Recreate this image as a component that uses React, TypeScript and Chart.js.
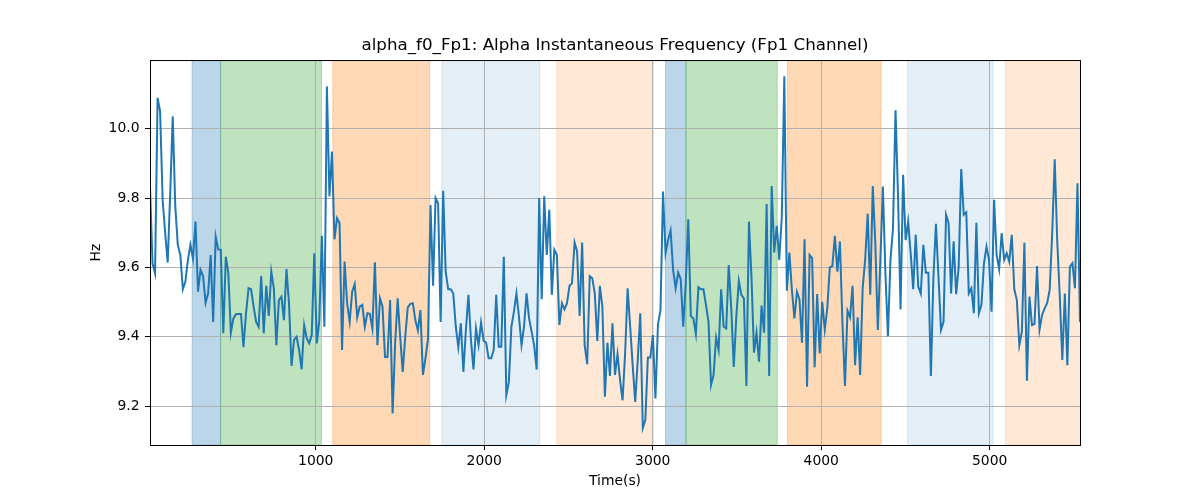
import React, { useEffect, useRef } from 'react';
import { Chart, registerables } from 'chart.js';

Chart.register(...registerables);

// sampling of the instantaneous frequency trace (seconds)
const T_START = 16;
const T_STEP = 15;

// alpha instantaneous frequency, Hz
const alphaHz: number[] = [
  9.833, 9.612, 9.583, 10.089, 10.05, 9.795, 9.70, 9.614, 9.815, 10.036,
  9.776, 9.665, 9.636, 9.537, 9.559, 9.622, 9.665, 9.625, 9.732, 9.530,
  9.593, 9.575, 9.498, 9.525, 9.636, 9.443, 9.689, 9.652, 9.651, 9.41,
  9.631, 9.583, 9.412, 9.453, 9.465, 9.466, 9.466, 9.37, 9.468, 9.540,
  9.537, 9.487, 9.443, 9.429, 9.575, 9.41, 9.547, 9.46,

  9.588, 9.54, 9.376, 9.506, 9.516, 9.448, 9.595, 9.497, 9.316, 9.391,
  9.40, 9.362, 9.306, 9.434, 9.396, 9.381, 9.405, 9.641, 9.381, 9.448,
  9.691, 9.429, 10.122, 9.805, 9.934, 9.681, 9.742, 9.728, 9.362, 9.617,
  9.497, 9.443, 9.53, 9.552, 9.456, 9.487, 9.492, 9.429, 9.468, 9.466,
  9.424, 9.615, 9.376, 9.511, 9.487, 9.342, 9.342,

  9.506, 9.179, 9.381, 9.511, 9.40, 9.299, 9.40, 9.485, 9.495, 9.497,
  9.448, 9.418, 9.477, 9.29, 9.338, 9.393, 9.78, 9.547, 9.80, 9.785,
  9.443, 9.821, 9.588, 9.537, 9.537, 9.525, 9.429, 9.37, 9.439, 9.299,
  9.42, 9.521, 9.391, 9.306, 9.424, 9.376, 9.441, 9.389, 9.383, 9.338,
  9.338, 9.362, 9.521, 9.371, 9.371, 9.631, 9.232, 9.27,

  9.429, 9.472, 9.525, 9.458, 9.376, 9.429, 9.525, 9.453, 9.415, 9.376,
  9.306, 9.80, 9.508, 9.805, 9.636, 9.766, 9.521, 9.651, 9.636, 9.434,
  9.497, 9.479, 9.497, 9.547, 9.554, 9.672, 9.646, 9.46, 9.672, 9.376,
  9.321, 9.575, 9.569, 9.525, 9.388, 9.547, 9.487, 9.227, 9.383, 9.287,
  9.439, 9.29, 9.35, 9.275, 9.217, 9.352, 9.54,

  9.429, 9.318, 9.212, 9.333, 9.468, 9.137, 9.16, 9.34, 9.34, 9.405,
  9.222, 9.436, 9.477, 9.819, 9.641, 9.679, 9.706, 9.593, 9.54, 9.585,
  9.566, 9.429, 9.556, 9.739, 9.46, 9.453, 9.408, 9.543, 9.537, 9.537,
  9.492, 9.443, 9.261, 9.29, 9.398, 9.362, 9.537, 9.429, 9.424, 9.607,
  9.482, 9.313, 9.458, 9.561, 9.521, 9.511, 9.258, 9.732,

  9.573, 9.354, 9.412, 9.328, 9.490, 9.412, 9.783, 9.287, 9.835, 9.643,
  9.72, 9.622, 9.747, 10.151, 9.533, 9.643, 9.535, 9.453, 9.53, 9.508,
  9.383, 9.681, 9.256, 9.636, 9.627, 9.312, 9.523, 9.352, 9.501, 9.421,
  9.482, 9.60, 9.604, 9.691, 9.588, 9.675, 9.439, 9.258, 9.475, 9.456,
  9.547, 9.318, 9.456, 9.29, 9.54, 9.624, 9.755,

  9.521, 9.835, 9.67, 9.42, 9.62, 9.833, 9.583, 9.402, 9.622, 9.713,
  10.053, 9.805, 9.479, 9.867, 9.679, 9.732, 9.641, 9.537, 9.694, 9.545,
  9.525, 9.665, 9.585, 9.585, 9.287, 9.573, 9.726, 9.573, 9.42, 9.443,
  9.752, 9.728, 9.525, 9.675, 9.523, 9.602, 9.884, 9.752, 9.759, 9.525,
  9.54, 9.468, 9.729, 9.468, 9.492, 9.612, 9.66, 9.622,

  9.472, 9.795, 9.636, 9.595, 9.699, 9.622, 9.641, 9.617, 9.694, 9.537,
  9.506, 9.376, 9.415, 9.672, 9.273, 9.516, 9.434, 9.437, 9.604, 9.421,
  9.463, 9.482, 9.497, 9.535, 9.699, 9.912, 9.675, 9.516, 9.333, 9.525,
  9.318, 9.602, 9.612, 9.54, 9.843, 9.443,
];

// shaded epochs (seconds)
const spanStart = [266, 435, 1101, 1748, 2430, 3076, 3197, 3800, 4512, 5093];
const spanEnd = [435, 1034, 1676, 2329, 3005, 3197, 3739, 4356, 5020, 5600];
const spanKind = ['blue', 'green', 'orange', 'lightblue', 'lightorange', 'blue', 'green', 'orange', 'lightblue', 'lightorange'];

const xTicks = [1000, 2000, 3000, 4000, 5000];
const yTicks = [9.2, 9.4, 9.6, 9.8, 10.0];

const spanColors: Record<string, string> = {
  blue: 'rgba(31,119,180,0.3)',
  green: 'rgba(44,160,44,0.3)',
  orange: 'rgba(255,127,14,0.3)',
  lightblue: 'rgba(31,119,180,0.12)',
  lightorange: 'rgba(255,127,14,0.17)',
};

const FONT = 'DejaVu Sans';

// background spans, drawn under the grid
const spansPlugin = {
  id: 'spans',
  beforeDraw(chart: Chart) {
    const { ctx, chartArea } = chart;
    const x = chart.scales.x;
    ctx.save();
    ctx.fillStyle = '#fff';
    ctx.fillRect(0, 0, chart.width, chart.height);
    ctx.beginPath();
    ctx.rect(chartArea.left, chartArea.top, chartArea.right - chartArea.left, chartArea.bottom - chartArea.top);
    ctx.clip();
    spanStart.forEach((s, i) => {
      const x0 = x.getPixelForValue(s);
      const x1 = x.getPixelForValue(spanEnd[i]);
      ctx.fillStyle = spanColors[spanKind[i]];
      ctx.strokeStyle = spanColors[spanKind[i]];
      ctx.lineWidth = 1;
      ctx.fillRect(x0, chartArea.top, x1 - x0, chartArea.bottom - chartArea.top);
      ctx.strokeRect(x0, chartArea.top, x1 - x0, chartArea.bottom - chartArea.top);
    });
    ctx.restore();
  },
};

// axes frame on all four sides
const framePlugin = {
  id: 'frame',
  afterDatasetsDraw(chart: Chart) {
    const { ctx, chartArea } = chart;
    ctx.save();
    ctx.strokeStyle = '#000';
    ctx.lineWidth = 1;
    ctx.strokeRect(chartArea.left + 0.5, chartArea.top + 0.5, chartArea.right - chartArea.left, chartArea.bottom - chartArea.top);
    ctx.restore();
  },
};

export default function App() {
  const canvasRef = useRef<HTMLCanvasElement>(null);

  useEffect(() => {
    document.body.style.margin = '0';
    const ctx = canvasRef.current?.getContext('2d');
    if (!ctx) return;

    const points = alphaHz.map((v, i) => ({ x: T_START + i * T_STEP, y: v }));

    const chart = new Chart(ctx, {
      type: 'line',
      data: {
        datasets: [{
          label: 'alpha_f0_Fp1',
          data: points,
          borderColor: '#1f77b4',
          borderWidth: 2,
          pointRadius: 0,
          tension: 0,
          fill: false,
          clip: 0,
        }],
      },
      plugins: [spansPlugin, framePlugin],
      options: {
        animation: false,
        responsive: false,
        devicePixelRatio: 1,
        layout: { padding: { left: 0, right: 120, top: 0, bottom: 0 } },
        plugins: {
          legend: { display: false },
          tooltip: { enabled: false },
          title: {
            display: true,
            text: 'alpha_f0_Fp1: Alpha Instantaneous Frequency (Fp1 Channel)',
            fullSize: false,
            color: '#000',
            font: { family: FONT, size: 16.7, weight: 'normal', lineHeight: 1.2 },
            padding: { top: 36, bottom: 4 },
          },
        },
        scales: {
          x: {
            type: 'linear',
            min: T_START,
            max: T_START + (alphaHz.length - 1) * T_STEP,
            afterFit: (scale: any) => { scale.height = 55; },
            afterBuildTicks: (scale: any) => { scale.ticks = xTicks.map((v) => ({ value: v })); },
            grid: { color: '#b0b0b0', lineWidth: 1, tickColor: '#000', tickLength: 5 },
            border: { display: false },
            ticks: {
              color: '#000',
              font: { family: FONT, size: 13.9 },
              padding: 3,
              maxRotation: 0,
              callback: (v: any) => String(v),
            },
            title: {
              display: true,
              text: 'Time(s)',
              color: '#000',
              font: { family: FONT, size: 13.9, lineHeight: 1.2 },
              padding: { top: 0, bottom: 10.5 },
            },
          },
          y: {
            type: 'linear',
            min: 9.088,
            max: 10.198,
            afterFit: (scale: any) => { scale.width = 150; },
            afterBuildTicks: (scale: any) => { scale.ticks = yTicks.map((v) => ({ value: v })); },
            grid: { color: '#b0b0b0', lineWidth: 1, tickColor: '#000', tickLength: 5 },
            border: { display: false },
            ticks: {
              color: '#000',
              font: { family: FONT, size: 13.9 },
              padding: 5.5,
              callback: (v: any) => Number(v).toFixed(1),
            },
            title: {
              display: true,
              text: 'Hz',
              color: '#000',
              font: { family: FONT, size: 13.9, lineHeight: 1.2 },
              padding: { top: 88.5, bottom: 0 },
            },
          },
        },
      },
    });

    return () => chart.destroy();
  }, []);

  return (
    <div style={{ width: 1200, height: 500 }}>
      <canvas ref={canvasRef} width={1200} height={500} />
    </div>
  );
}
